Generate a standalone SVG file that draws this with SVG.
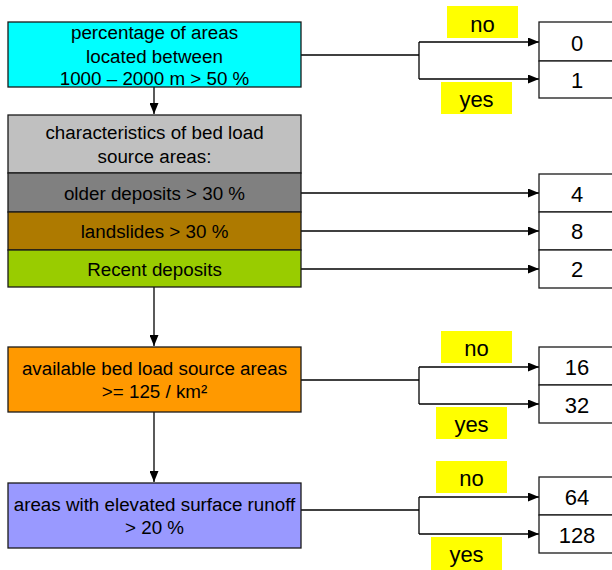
<svg xmlns="http://www.w3.org/2000/svg" width="612" height="570" viewBox="0 0 612 570">
<style>
.box{stroke:#1a1a1a;stroke-width:1.3}
.t{font-family:"Liberation Sans",Arial,sans-serif;font-size:18.8px;fill:#000;text-anchor:middle}
.n{font-family:"Liberation Sans",Arial,sans-serif;font-size:22px;fill:#000;text-anchor:middle}
.lbl{fill:#ffff00}
.c{stroke:#000;stroke-width:1.3;fill:none}
.out{fill:#fff;stroke:#1a1a1a;stroke-width:1.3}
</style>
<defs>
<marker id="ah" markerWidth="11" markerHeight="9" refX="11" refY="4.5" orient="auto" markerUnits="userSpaceOnUse">
<path d="M0,0 L11,4.5 L0,9 Z" fill="#000"/>
</marker>
</defs>
<rect width="612" height="570" fill="#fff"/>

<g id="connectors">
<path class="c" d="M154,87 V114" marker-end="url(#ah)"/>
<path class="c" d="M154,287 V346" marker-end="url(#ah)"/>
<path class="c" d="M154,412 V482" marker-end="url(#ah)"/>
<path class="c" d="M301,55 H419"/>
<path class="c" d="M419,42 V79"/>
<path class="c" d="M419,42 H539" marker-end="url(#ah)"/>
<path class="c" d="M419,79 H539" marker-end="url(#ah)"/>
<path class="c" d="M301,193 H539" marker-end="url(#ah)"/>
<path class="c" d="M301,231 H539" marker-end="url(#ah)"/>
<path class="c" d="M301,269 H539" marker-end="url(#ah)"/>
<path class="c" d="M301,380 H419"/>
<path class="c" d="M419,367 V404"/>
<path class="c" d="M419,367 H539" marker-end="url(#ah)"/>
<path class="c" d="M419,404 H539" marker-end="url(#ah)"/>
<path class="c" d="M301,510 H419"/>
<path class="c" d="M419,497 V534"/>
<path class="c" d="M419,497 H539" marker-end="url(#ah)"/>
<path class="c" d="M419,534 H539" marker-end="url(#ah)"/>
</g>

<g id="node-elevation">
<rect class="box" x="8" y="22" width="293" height="65" fill="#00ffff"/>
<text class="t" x="154.5" y="39">percentage of areas</text>
<text class="t" x="154.5" y="62.5">located between</text>
<text class="t" x="154.5" y="85">1000 – 2000 m &gt; 50 %</text>
</g>

<g id="node-characteristics">
<rect class="box" x="8" y="115" width="293" height="58" fill="#c0c0c0"/>
<text class="t" x="154.5" y="139">characteristics of bed load</text>
<text class="t" x="154.5" y="163">source areas:</text>
</g>
<g id="node-older">
<rect class="box" x="8" y="173" width="293" height="39" fill="#808080"/>
<text class="t" x="154.5" y="200">older deposits &gt; 30 %</text>
</g>
<g id="node-landslides">
<rect class="box" x="8" y="212" width="293" height="38" fill="#ae7a00"/>
<text class="t" x="154.5" y="238">landslides &gt; 30 %</text>
</g>
<g id="node-recent">
<rect class="box" x="8" y="250" width="293" height="37" fill="#99cc00"/>
<text class="t" x="154.5" y="276">Recent deposits</text>
</g>

<g id="node-available">
<rect class="box" x="8" y="347" width="293" height="65" fill="#ff9900"/>
<text class="t" x="154.5" y="375">available bed load source areas</text>
<text class="t" x="154.5" y="398">&gt;= 125 / km²</text>
</g>

<g id="node-runoff">
<rect class="box" x="8" y="483" width="293" height="65" fill="#9999ff"/>
<text class="t" x="154.5" y="511">areas with elevated surface runoff</text>
<text class="t" x="154.5" y="534">&gt; 20 %</text>
</g>

<g id="labels">
<rect class="lbl" x="447" y="6" width="71" height="32"/>
<text class="n" x="482.5" y="32">no</text>
<rect class="lbl" x="441" y="82" width="71" height="32"/>
<text class="n" x="476.5" y="107">yes</text>
<rect class="lbl" x="441" y="331" width="71" height="32"/>
<text class="n" x="476.5" y="356">no</text>
<rect class="lbl" x="436" y="407" width="71" height="32"/>
<text class="n" x="471.5" y="432">yes</text>
<rect class="lbl" x="436" y="461" width="71" height="32"/>
<text class="n" x="471.5" y="486">no</text>
<rect class="lbl" x="431" y="537" width="71" height="33"/>
<text class="n" x="466.5" y="562">yes</text>
</g>

<g id="out-0"><rect class="out" x="539" y="22" width="100" height="39"/><text class="n" x="577" y="51">0</text></g>
<g id="out-1"><rect class="out" x="539" y="61" width="100" height="37"/><text class="n" x="577" y="88">1</text></g>
<g id="out-4"><rect class="out" x="539" y="174" width="100" height="38"/><text class="n" x="577" y="202">4</text></g>
<g id="out-8"><rect class="out" x="539" y="212" width="100" height="38"/><text class="n" x="577" y="239">8</text></g>
<g id="out-2"><rect class="out" x="539" y="250" width="100" height="38"/><text class="n" x="577" y="277">2</text></g>
<g id="out-16"><rect class="out" x="539" y="347" width="100" height="38"/><text class="n" x="577" y="375">16</text></g>
<g id="out-32"><rect class="out" x="539" y="385" width="100" height="38"/><text class="n" x="577" y="413">32</text></g>
<g id="out-64"><rect class="out" x="539" y="477" width="100" height="38"/><text class="n" x="577" y="505">64</text></g>
<g id="out-128"><rect class="out" x="539" y="515" width="100" height="38"/><text class="n" x="577" y="543">128</text></g>
</svg>
